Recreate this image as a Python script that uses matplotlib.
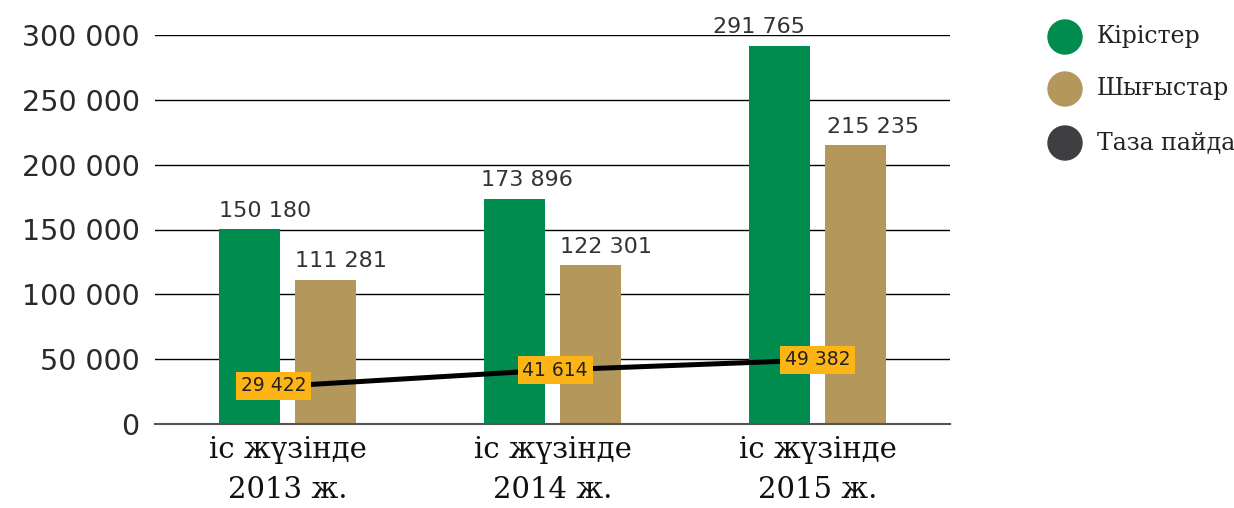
import numpy as np
from matplotlib import pyplot as plt
from matplotlib.patches import Ellipse

categories = ['іс жүзінде\n2013 ж.', 'іс жүзінде\n2014 ж.', 'іс жүзінде\n2015 ж.']
income = [150180, 173896, 291765]
expenses = [111281, 122301, 215235]
profit = [29422, 41614, 49382]
series_names = ['Кірістер', 'Шығыстар', 'Таза пайда']
y_ticks = [0, 50000, 100000, 150000, 200000, 250000, 300000]

green = '#008c4f'
tan = '#b3975b'
dark = '#3f3f41'
orange = '#fdb515'


def fmt(v):
    return f"{v:,}".replace(',', ' ')


fig = plt.figure(figsize=(12.34, 5.08), dpi=100)
ax = fig.add_axes([155 / 1234, 84 / 508, 795 / 1234, 389 / 508])

x = np.arange(len(categories))
w = 0.233
off = 0.143
ax.bar(x - off, income, width=w, color=green, zorder=2)
ax.bar(x + off, expenses, width=w, color=tan, zorder=2)

# value labels above the bars, left aligned to the bar edge
inc_shift = [0, -2, -26]
exp_shift = [0, 0, 2]
for xi, v, s in zip(x - off - w / 2, income, inc_shift):
    ax.annotate(fmt(v), (xi, v), xytext=(s, 6), textcoords='offset points',
                ha='left', va='bottom', fontsize=16, color='#333333')
for xi, v, s in zip(x + off - w / 2, expenses, exp_shift):
    ax.annotate(fmt(v), (xi, v), xytext=(s, 6), textcoords='offset points',
                ha='left', va='bottom', fontsize=16, color='#333333')

# net profit line
ax.plot(x, profit, color='black', lw=3.6, zorder=3, solid_capstyle='butt')
shifts = [-10, 2, 0]
for xi, v, s in zip(x, profit, shifts):
    ax.annotate(fmt(v), (xi, v), xytext=(s, 0), textcoords='offset points',
                ha='center', va='center', fontsize=13.5, color='#222222',
                family='DejaVu Sans Condensed',
                bbox=dict(boxstyle='square,pad=0.25', fc=orange, ec='none'), zorder=4)

ax.set_xlim(-0.5, 2.5)
ax.set_ylim(0, 300000)
ax.set_yticks(y_ticks)
ax.set_yticklabels([fmt(t) for t in y_ticks], fontsize=20.5, color='#2a2a2a')
ax.tick_params(axis='y', length=0, pad=11)
ax.set_xticks(x)
ax.set_xticklabels(categories, fontsize=21, family='DejaVu Serif',
                   color='#111111', linespacing=1.5)
ax.tick_params(axis='x', length=0, pad=9)
ax.grid(axis='y', color='black', lw=1, zorder=0)
for side in ['top', 'right', 'left']:
    ax.spines[side].set_visible(False)
ax.spines['bottom'].set_color('#555555')
ax.spines['bottom'].set_linewidth(1.5)
ax.spines['bottom'].set_zorder(5)

# legend drawn as circles + text in figure coords
leg_colors = [green, tan, dark]
leg_y = [37, 89, 143]
for name, c, yy in zip(series_names, leg_colors, leg_y):
    fig.patches.append(Ellipse((1065 / 1234, 1 - yy / 508), 34 / 1234, 34 / 508,
                               transform=fig.transFigure, color=c, figure=fig))
    fig.text(1097 / 1234, 1 - yy / 508, name, fontsize=17, family='DejaVu Serif',
             va='center', ha='left', color='#222222')

fig.savefig('out.png', dpi=100)
